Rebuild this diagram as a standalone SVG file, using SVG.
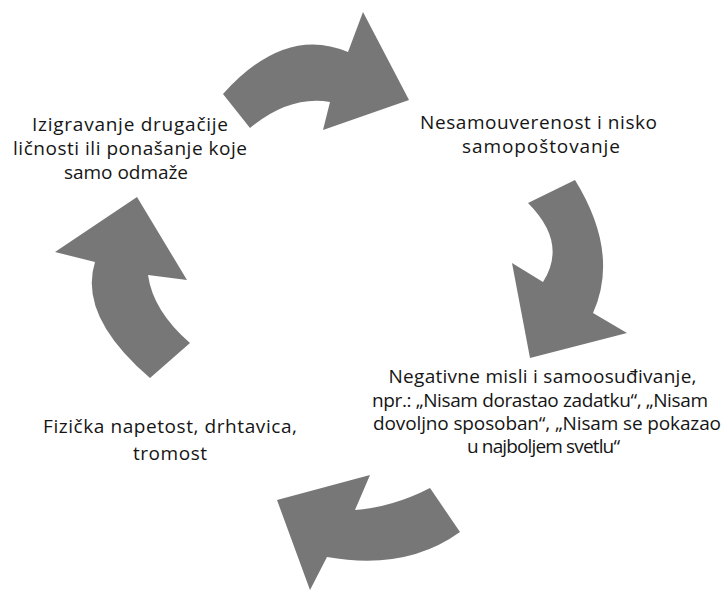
<svg xmlns="http://www.w3.org/2000/svg" width="726" height="591" viewBox="0 0 726 591">
<style>
.arr{fill:#777777;stroke:none}
.lbl{font-family:"Open Sans","Liberation Sans",sans-serif;font-size:19px;fill:#151515;text-anchor:middle}
</style>
<rect width="726" height="591" fill="#ffffff"/>
<g id="connectors">
<path id="arrow-top" class="arr" d="M223,94 Q285,25 348,52 L363,12 L409,100 L323,130 L330,102 Q290,95 250,128 Z"/>
<path id="arrow-right" class="arr" d="M528,203 L575,180 Q620,253 593,313 L627,333 L530,358 L512,263 L543,282 Q568,243 528,203 Z"/>
<path id="arrow-bottom" class="arr" d="M430,488 L460,532 Q406,571 327,557 L310,590 L277,500 L370,475 L355,510 Q393,507 430,488 Z"/>
<path id="arrow-left" class="arr" d="M150,378 Q78,316 95,262 L55,252 L137,197 L187,280 L148,275 Q153,311 190,343 Z"/>
</g>
<g id="node-top-right">
<text class="lbl" x="538.5" y="129" textLength="237">Nesamouverenost i nisko</text>
<text class="lbl" x="541" y="153" textLength="158">samopoštovanje</text>
</g>
<g id="node-bottom-right">
<text class="lbl" x="542.5" y="383" textLength="308">Negativne misli i samoosuđivanje,</text>
<text class="lbl" x="540" y="407" textLength="336">npr.: „Nisam dorastao zadatku“, „Nisam</text>
<text class="lbl" x="547" y="430" textLength="348">dovoljno sposoban“, „Nisam se pokazao</text>
<text class="lbl" x="543.5" y="453" textLength="153">u najboljem svetlu“</text>
</g>
<g id="node-bottom-left">
<text class="lbl" x="170" y="433" textLength="254">Fizička napetost, drhtavica,</text>
<text class="lbl" x="170" y="460" textLength="74">tromost</text>
</g>
<g id="node-top-left">
<text class="lbl" x="130" y="131" textLength="196">Izigravanje drugačije</text>
<text class="lbl" x="130" y="155" textLength="234">ličnosti ili ponašanje koje</text>
<text class="lbl" x="126" y="179" textLength="124">samo odmaže</text>
</g>
</svg>
